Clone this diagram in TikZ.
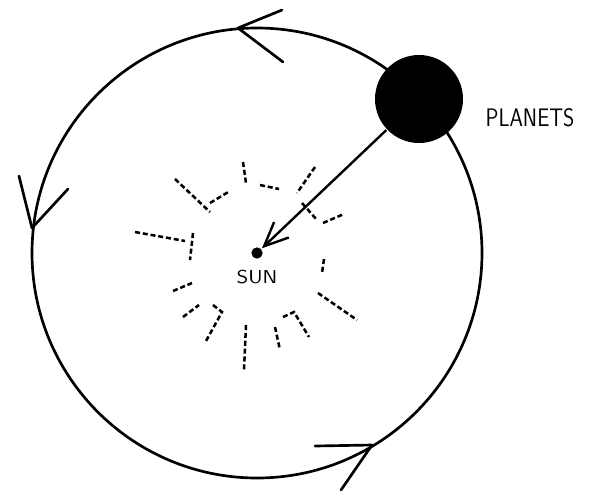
\documentclass[tikz,border=0pt]{standalone}
\usetikzlibrary{arrows.meta}

\tikzset{every picture/.style={line width=1.7pt}}
\tikzset{
  orbit/.style={line width=2pt, line cap=round, line join=round},
  rays/.style={line width=1.9pt, dash pattern={on 3.8pt off 2.1pt}},
  pull/.style={line width=1.8pt, -{Straight Barb[length=18pt,width=16pt]}},
  star/.style={circle, fill=black, inner sep=0pt, minimum size=8.5pt},
  planetball/.style={circle, fill=black, inner sep=0pt, minimum size=66pt},
  hand/.style={font=\sffamily, inner sep=0.75pt}
}

\begin{document}
\begin{tikzpicture}[x=0.75pt,y=0.75pt,yscale=-1,xscale=1]
\useasboundingbox (0,0) rectangle (592,490);

% Sun and planet
\node [star] (sun) at (257,253) {};
\node [planetball] (planet) at (419,99) {};

% Orbit
\draw [orbit] (sun) circle [radius=225];

% Direction marks on the orbit
\coordinate (topTip) at (238,28);
\coordinate (leftTip) at (32,228);
\coordinate (lowTip) at (372,445);
\draw [orbit] (282,10) -- (topTip) -- (283,62);
\draw [orbit] (19,176) -- (leftTip) -- (68,189);
\draw [orbit] (315,446) -- (lowTip) -- (341,490);

% Rays round the sun
\draw [rays] (175,179) -- (210,212) (210,203) -- (230,191);
\draw [rays] (243,162) -- (246,183) (260,185) -- (279,189);
\draw [rays] (315,167) -- (297,193) (302,203) -- (317,220) (323,223) -- (344,214);
\draw [rays] (135,232) -- (185,241) (193,233) -- (190,260);
\draw [rays] (324,259) -- (322,273) (318,293) -- (357,320);
\draw [rays] (173,291) -- (192,283) (183,317) -- (199,305);
\draw [rays] (213,305) -- (222,312) -- (206,341) (246,325) -- (244,370);
\draw [rays] (275,327) -- (280,350) (283,317) -- (294,312) -- (309,337);

% Pull of the sun
\draw [pull] (planet) -- (sun);

% Text Node
\node [hand, xscale=1.15, font=\sffamily\fontsize{14}{16}\selectfont] (sunlabel) at (257,277) {SUN};
% Text Node
\node [hand, xscale=0.85, font=\sffamily\fontsize{19}{22}\selectfont] (planetlabel) at (530,118) {PLANETS};

\end{tikzpicture}
\end{document}
